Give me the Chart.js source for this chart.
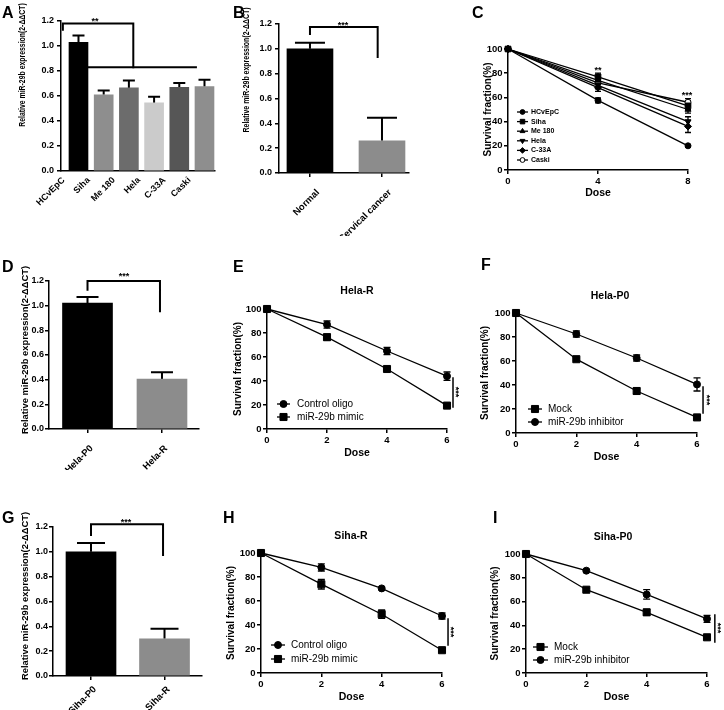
<!DOCTYPE html>
<html>
<head>
<meta charset="utf-8">
<script src="https://cdn.jsdelivr.net/npm/chart.js@4.4.0/dist/chart.umd.min.js"></script>
<style>
  html, body { margin: 0; padding: 0; background: #fff; }
  #fig { position: relative; width: 724px; height: 710px; overflow: hidden; background: #fff; }
  #fig canvas { position: absolute; }
</style>
</head>
<body>
<div id="fig"></div>
<script>
// ---------- data ----------
// A: miR-29b in cell lines
const cellCats = ['HCvEpC', 'Siha', 'Me 180', 'Hela', 'C-33A', 'Caski'];
const cellExpr = [1.03, 0.61, 0.665, 0.545, 0.67, 0.675];
const cellErr = [0.055, 0.035, 0.06, 0.05, 0.035, 0.055];

// B: tissues
const tissueCats = ['Normal', 'Cervical cancer'];
const tissueExpr = [1.0, 0.26];
const tissueErr = [0.05, 0.185];

// C: survival per cell line
const doseC = [0, 4, 8];
const survHCvEpC = [100, 57.5, 20];
const errHCvEpC = [0, 2, 1];
const survSiha = [100, 77, 53];
const errSiha = [0, 3, 3];
const survMe180 = [100, 74, 50];
const errMe180 = [0, 3, 3];
const survHela = [100, 70, 40];
const errHela = [0, 3, 4];
const survC33A = [100, 68, 36];
const errC33A = [0, 3, 5];
const survCaski = [100, 72, 56];
const errCaski = [0, 3, 3];

// D: Hela
const helaCats = ['Hela-P0', 'Hela-R'];
const helaExpr = [1.02, 0.405];
const helaErr = [0.05, 0.055];

// E-I: survival vs dose
const dose = [0, 2, 4, 6];
const helaRControl = [100, 87, 65, 44];
const helaRControlErr = [0, 3, 3, 3.5];
const helaRMimic = [100, 76.5, 50, 19.5];
const helaRMimicErr = [0, 2.5, 1, 1];

const helaP0Mock = [100, 61.5, 35, 13];
const helaP0MockErr = [0, 1, 2.5, 1];
const helaP0Inhib = [100, 82.5, 62.5, 40.5];
const helaP0InhibErr = [0, 2.5, 2.5, 5.5];

// G: Siha
const sihaCats = ['Siha-P0', 'Siha-R'];
const sihaExpr = [1.0, 0.3];
const sihaErr = [0.072, 0.08];

const sihaRControl = [100, 88, 70.5, 47.5];
const sihaRControlErr = [0, 3, 1, 2.5];
const sihaRMimic = [100, 74, 49, 19];
const sihaRMimicErr = [0, 4, 3.5, 1];

const sihaP0Mock = [100, 70, 51, 30];
const sihaP0MockErr = [0, 1, 2.5, 1];
const sihaP0Inhib = [100, 86, 66, 45.5];
const sihaP0InhibErr = [0, 1, 4, 3];

const exprTitle = 'Relative miR-29b expression(2-\u0394\u0394CT)';

// ---------- setup ----------
const FONT = "'Liberation Sans', Arial, Helvetica, sans-serif";
Chart.defaults.font.family = FONT;
Chart.defaults.color = '#000';
Chart.defaults.animation = false;
Chart.defaults.events = [];
Chart.defaults.plugins.legend.display = false;
Chart.defaults.plugins.tooltip.enabled = false;

const fig = document.getElementById('fig');

function txt(t, x, y, size, o = {}) {
    return { t, x, y, size, weight: o.weight || 'bold', align: o.align || 'center',
             base: o.base || 'middle', rot: o.rot || 0, dy: o.dy || 0, sx: o.sx || 1 };
}
// asterisks sit high in the em box, shift them so (x, y) is the glyph centre
function stars(t, x, y, size, rot) {
    return txt(t, x, y, size, { base: 'alphabetic', rot: rot || 0, dy: size * 0.58 });
}
function letter(t, x, y) {
    return txt(t, x, y, 16, { align: 'left', base: 'alphabetic' });
}

// per chart decorations: error bars, brackets, free text, legend
function deco(spec) {
    return {
        id: 'deco',
        beforeDatasetsDraw(chart) {
            const ctx = chart.ctx, ys = chart.scales.y;
            (spec.errors || []).forEach(e => {
                const meta = chart.getDatasetMeta(e.ds);
                const vals = chart.data.datasets[e.ds].data;
                ctx.save();
                ctx.strokeStyle = '#000';
                ctx.lineWidth = e.lw;
                meta.data.forEach((el, j) => {
                    const d = e.err[j];
                    if (!d) return;
                    const v = typeof vals[j] === 'object' ? vals[j].y : vals[j];
                    const top = ys.getPixelForValue(v + d);
                    const bot = e.up ? el.y : ys.getPixelForValue(v - d);
                    ctx.beginPath();
                    ctx.moveTo(el.x, bot); ctx.lineTo(el.x, top);
                    ctx.moveTo(el.x - e.cap / 2, top); ctx.lineTo(el.x + e.cap / 2, top);
                    if (!e.up) { ctx.moveTo(el.x - e.cap / 2, bot); ctx.lineTo(el.x + e.cap / 2, bot); }
                    ctx.stroke();
                });
                ctx.restore();
            });
        },
        afterDraw(chart) {
            const ctx = chart.ctx, xs = chart.scales.x, ys = chart.scales.y;
            ctx.save();
            ctx.strokeStyle = '#000';
            ctx.lineCap = 'square';
            (spec.brackets || []).forEach(b => {
                ctx.lineWidth = b.lw || 2;
                ctx.beginPath();
                b.pts.forEach((p, k) => {
                    const px = xs.getPixelForValue(p[0]), py = ys.getPixelForValue(p[1]);
                    if (k === 0) ctx.moveTo(px, py); else ctx.lineTo(px, py);
                });
                ctx.stroke();
            });
            ctx.restore();

            (spec.texts || []).forEach(s => {
                ctx.save();
                ctx.translate(s.x - spec.box.x, s.y - spec.box.y);
                ctx.rotate(s.rot);
                ctx.scale(s.sx, 1);
                ctx.font = `${s.weight} ${s.size}px ${FONT}`;
                ctx.fillStyle = '#000';
                ctx.textAlign = s.align;
                ctx.textBaseline = s.base;
                ctx.fillText(s.t, 0, s.dy);
                ctx.restore();
            });

            const L = spec.legend;
            if (L) {
                ctx.save();
                ctx.font = L.font;
                ctx.textAlign = 'left';
                ctx.textBaseline = 'middle';
                L.items.forEach((di, k) => {
                    const ds = chart.data.datasets[di];
                    const x = L.x - spec.box.x, y = L.y - spec.box.y + k * L.dy;
                    ctx.strokeStyle = '#000';
                    ctx.lineWidth = 1.3;
                    ctx.beginPath(); ctx.moveTo(x, y); ctx.lineTo(x + L.len, y); ctx.stroke();
                    ctx.fillStyle = ds.pointBackgroundColor;
                    ctx.lineWidth = 1;
                    Chart.helpers.drawPoint(ctx, {
                        pointStyle: ds.pointStyle, radius: ds.pointRadius * L.scale,
                        rotation: ds.pointRotation || 0, borderWidth: 1
                    }, x + L.len / 2, y);
                    ctx.fillStyle = '#000';
                    ctx.fillText(ds.label, x + L.len + L.gap, y);
                });
                ctx.restore();
            }
        }
    };
}

function makeChart(type, box, area, data, scales, spec) {
    const canvas = document.createElement('canvas');
    canvas.style.left = box.x + 'px';
    canvas.style.top = box.y + 'px';
    canvas.style.width = box.w + 'px';
    canvas.style.height = box.h + 'px';
    canvas.width = box.w;
    canvas.height = box.h;
    fig.appendChild(canvas);
    scales.x.afterFit = s => { s.height = box.y + box.h - area.b; };
    scales.y.afterFit = s => { s.width = area.l - box.x; };
    spec.box = box;
    return new Chart(canvas, {
        type,
        data,
        options: {
            responsive: false,
            devicePixelRatio: 1,
            layout: { padding: { left: 0, bottom: 0, top: area.t - box.y, right: box.x + box.w - area.r } },
            scales
        },
        plugins: [deco(spec)]
    });
}

const axisLine = { color: '#000', width: 1.5 };
const tickGrid = len => ({ drawOnChartArea: false, tickLength: len, color: '#000', lineWidth: 1.5 });

function barScales(cats, o) {
    return {
        x: {
            type: 'linear', min: o.xmin, max: o.xmax, offset: false,
            afterBuildTicks: s => { s.ticks = cats.map((c, i) => ({ value: i })); },
            ticks: {
                autoSkip: false, minRotation: 45, maxRotation: 45, labelOffset: o.labelOffset,
                padding: o.xpad, font: { size: o.xfont, weight: 'bold' }, callback: v => cats[v]
            },
            grid: Object.assign(tickGrid(4), { drawTicks: o.xticks, offset: false }),
            border: axisLine
        },
        y: {
            min: 0, max: 1.2,
            ticks: { stepSize: 0.2, padding: o.ypad, font: { size: 9, weight: 'bold' }, callback: v => v.toFixed(1) },
            grid: tickGrid(4),
            border: axisLine
        }
    };
}

function lineScales(o) {
    return {
        x: {
            type: 'linear', min: 0, max: o.xmax,
            ticks: { stepSize: o.xstep, padding: 1.5, font: { size: 9.5, weight: 'bold' } },
            grid: tickGrid(4),
            border: axisLine,
            title: { display: true, text: 'Dose', font: { size: 10.5, weight: 'bold', lineHeight: 1.2 },
                     padding: { top: 0, bottom: o.xtp } }
        },
        y: {
            min: 0, max: 100,
            ticks: { stepSize: 20, padding: 1.5, font: { size: 9.5, weight: 'bold' } },
            grid: tickGrid(4),
            border: axisLine,
            title: { display: true, text: 'Survival fraction(%)', font: { size: 10, weight: 'bold', lineHeight: 1.2 },
                     padding: { top: o.ytp, bottom: 0 } }
        }
    };
}

const pts = (xs, ys) => xs.map((x, i) => ({ x, y: ys[i] }));

function barData(cats, vals, colors, thick) {
    return {
        datasets: [{
            data: pts(cats.map((c, i) => i), vals),
            backgroundColor: colors,
            barThickness: thick,
            borderWidth: 0
        }]
    };
}

function lineSet(label, xs, ys, style, o = {}) {
    return {
        type: 'line', label, data: pts(xs, ys), clip: false,
        borderColor: '#000', borderWidth: 1.3, tension: 0, fill: false,
        pointStyle: style, pointRadius: o.r || 3.5, pointRotation: o.rot || 0,
        pointBackgroundColor: o.open ? '#fff' : '#000', pointBorderColor: '#000', pointBorderWidth: 1
    };
}

// ---------- A ----------
makeChart('bar',
    { x: 0, y: 0, w: 228, h: 232 }, { l: 61, t: 21, r: 215, b: 171 },
    barData(cellCats, cellExpr, ['#000000', '#8e8e8e', '#6c6c6c', '#cbcbcb', '#565656', '#8e8e8e'], 19),
    barScales(cellCats, { xmin: -0.694, xmax: 5.417, labelOffset: -15, xpad: 4, xticks: false, xfont: 9, ypad: 3 }),
    {
        errors: [{ ds: 0, err: cellErr, up: true, cap: 12, lw: 2 }],
        brackets: [
            { pts: [[-0.62, 1.13], [-0.62, 1.18], [2.175, 1.18], [2.175, 0.83]] },
            { pts: [[-0.29, 0.83], [4.66, 0.83]] }
        ],
        texts: [letter('A', 2, 18), stars('**', 95, 19, 9),
                txt(exprTitle, 22.5, 65, 8.5, { rot: -Math.PI / 2, sx: 0.81 })]
    });

// ---------- B ----------
makeChart('bar',
    { x: 228, y: 0, w: 244, h: 236 }, { l: 279, t: 24, r: 409, b: 173 },
    barData(tissueCats, tissueExpr, ['#000000', '#8c8c8c'], 46),
    barScales(tissueCats, { xmin: -0.43, xmax: 1.375, labelOffset: 8, xpad: 10, xticks: true, xfont: 9.5, ypad: 3 }),
    {
        errors: [{ ds: 0, err: tissueErr, up: true, cap: 30, lw: 2 }],
        brackets: [{ pts: [[0, 1.12], [0, 1.175], [0.94, 1.175], [0.94, 0.935]] }],
        texts: [letter('B', 233, 18), stars('***', 343, 23, 9),
                txt(exprTitle, 246.5, 70, 8.5, { rot: -Math.PI / 2, sx: 0.82 })]
    });

// ---------- C ----------
makeChart('line',
    { x: 472, y: 0, w: 252, h: 232 }, { l: 508, t: 49, r: 688, b: 170 },
    {
        datasets: [
            lineSet('HCvEpC', doseC, survHCvEpC, 'circle', { r: 3 }),
            lineSet('Siha', doseC, survSiha, 'rect', { r: 4 }),
            lineSet('Me 180', doseC, survMe180, 'triangle', { r: 3.5 }),
            lineSet('Hela', doseC, survHela, 'triangle', { r: 3.5, rot: 180 }),
            lineSet('C-33A', doseC, survC33A, 'rectRot', { r: 3.5 }),
            lineSet('Caski', doseC, survCaski, 'circle', { r: 3, open: true })
        ]
    },
    lineScales({ xmax: 8, xstep: 4, xtp: 32.7, ytp: 10 }),
    {
        errors: [
            { ds: 0, err: errHCvEpC, cap: 6, lw: 1.3 }, { ds: 1, err: errSiha, cap: 6, lw: 1.3 },
            { ds: 2, err: errMe180, cap: 6, lw: 1.3 }, { ds: 3, err: errHela, cap: 6, lw: 1.3 },
            { ds: 4, err: errC33A, cap: 6, lw: 1.3 }, { ds: 5, err: errCaski, cap: 6, lw: 1.3 }
        ],
        texts: [letter('C', 472, 18), stars('**', 598, 68, 9), stars('***', 687, 93, 9)],
        legend: { x: 517, y: 112, dy: 9.6, len: 11, gap: 3, scale: 0.8, font: `bold 7px ${FONT}`, items: [0, 1, 2, 3, 4, 5] }
    });

// ---------- D ----------
makeChart('bar',
    { x: 0, y: 232, w: 228, h: 238 }, { l: 49, t: 281, r: 199, b: 429 },
    barData(helaCats, helaExpr, ['#000000', '#8c8c8c'], 50),
    barScales(helaCats, { xmin: -0.517, xmax: 1.497, labelOffset: 4, xpad: 10, xticks: true, xfont: 9.5, ypad: 1 }),
    {
        errors: [{ ds: 0, err: helaErr, up: true, cap: 22, lw: 2 }],
        brackets: [{ pts: [[0, 1.13], [0, 1.2], [0.973, 1.2], [0.973, 0.955]] }],
        texts: [letter('D', 2, 272), stars('***', 124, 274, 9),
                txt(exprTitle, 25.3, 350, 9.4, { rot: -Math.PI / 2 })]
    });

// ---------- E ----------
makeChart('line',
    { x: 228, y: 232, w: 247, h: 238 }, { l: 267, t: 309, r: 447, b: 429 },
    {
        datasets: [
            lineSet('Control oligo', dose, helaRControl, 'circle'),
            lineSet('miR-29b mimic', dose, helaRMimic, 'rect', { r: 5 })
        ]
    },
    lineScales({ xmax: 6, xstep: 2, xtp: 10.7, ytp: 4 }),
    {
        errors: [{ ds: 0, err: helaRControlErr, cap: 7, lw: 1.3 }, { ds: 1, err: helaRMimicErr, cap: 7, lw: 1.3 }],
        brackets: [{ pts: [[6.2, 42.5], [6.2, 18.3]], lw: 1.5 }],
        texts: [letter('E', 233, 272), txt('Hela-R', 357, 291, 10.5), stars('***', 458, 392, 9, Math.PI / 2)],
        legend: { x: 277, y: 404, dy: 13, len: 13, gap: 7, scale: 1, font: `10px ${FONT}`, items: [0, 1] }
    });

// ---------- F ----------
makeChart('line',
    { x: 475, y: 232, w: 249, h: 238 }, { l: 516, t: 313, r: 697, b: 433 },
    {
        datasets: [
            lineSet('Mock', dose, helaP0Mock, 'rect', { r: 5 }),
            lineSet('miR-29b inhibitor', dose, helaP0Inhib, 'circle')
        ]
    },
    lineScales({ xmax: 6, xstep: 2, xtp: 6.7, ytp: 4.5 }),
    {
        errors: [{ ds: 0, err: helaP0MockErr, cap: 7, lw: 1.3 }, { ds: 1, err: helaP0InhibErr, cap: 7, lw: 1.3 }],
        brackets: [{ pts: [[6.2, 38.3], [6.2, 16.7]], lw: 1.5 }],
        texts: [letter('F', 481, 270), txt('Hela-P0', 610, 296, 10.5), stars('***', 709, 400, 9, Math.PI / 2)],
        legend: { x: 528, y: 409, dy: 13, len: 14, gap: 6, scale: 1, font: `10px ${FONT}`, items: [0, 1] }
    });

// ---------- G ----------
makeChart('bar',
    { x: 0, y: 470, w: 218, h: 240 }, { l: 53, t: 527, r: 202, b: 676 },
    barData(sihaCats, sihaExpr, ['#000000', '#8c8c8c'], 50),
    barScales(sihaCats, { xmin: -0.517, xmax: 1.51, labelOffset: 4, xpad: 4, xticks: true, xfont: 9.5, ypad: 1 }),
    {
        errors: [{ ds: 0, err: sihaErr, up: true, cap: 28, lw: 2 }],
        brackets: [{ pts: [[0, 1.135], [0, 1.222], [0.98, 1.222], [0.98, 0.975]] }],
        texts: [letter('G', 2, 523), stars('***', 126, 520, 9),
                txt(exprTitle, 25.7, 596, 9.4, { rot: -Math.PI / 2 })]
    });

// ---------- H ----------
makeChart('line',
    { x: 218, y: 470, w: 257, h: 240 }, { l: 261, t: 553, r: 442, b: 673 },
    {
        datasets: [
            lineSet('Control oligo', dose, sihaRControl, 'circle'),
            lineSet('miR-29b mimic', dose, sihaRMimic, 'rect', { r: 5 })
        ]
    },
    lineScales({ xmax: 6, xstep: 2, xtp: 6.7, ytp: 7 }),
    {
        errors: [{ ds: 0, err: sihaRControlErr, cap: 7, lw: 1.3 }, { ds: 1, err: sihaRMimicErr, cap: 7, lw: 1.3 }],
        brackets: [{ pts: [[6.2, 45], [6.2, 23.3]], lw: 1.5 }],
        texts: [letter('H', 223, 523), txt('Siha-R', 351, 536, 10.5), stars('***', 453, 632, 9, Math.PI / 2)],
        legend: { x: 271, y: 645, dy: 14, len: 14, gap: 6, scale: 1, font: `10px ${FONT}`, items: [0, 1] }
    });

// ---------- I ----------
makeChart('line',
    { x: 475, y: 470, w: 249, h: 240 }, { l: 526, t: 554, r: 707, b: 673 },
    {
        datasets: [
            lineSet('Mock', dose, sihaP0Mock, 'rect', { r: 5 }),
            lineSet('miR-29b inhibitor', dose, sihaP0Inhib, 'circle')
        ]
    },
    lineScales({ xmax: 6, xstep: 2, xtp: 6.2, ytp: 14.5 }),
    {
        errors: [{ ds: 0, err: sihaP0MockErr, cap: 7, lw: 1.3 }, { ds: 1, err: sihaP0InhibErr, cap: 7, lw: 1.3 }],
        brackets: [{ pts: [[6.26, 48.7], [6.26, 26]], lw: 1.5 }],
        texts: [letter('I', 493, 523), txt('Siha-P0', 613, 537, 10.5), stars('***', 720, 628, 9, Math.PI / 2)],
        legend: { x: 533, y: 647, dy: 13, len: 15, gap: 6, scale: 1, font: `10px ${FONT}`, items: [0, 1] }
    });
</script>
</body>
</html>
